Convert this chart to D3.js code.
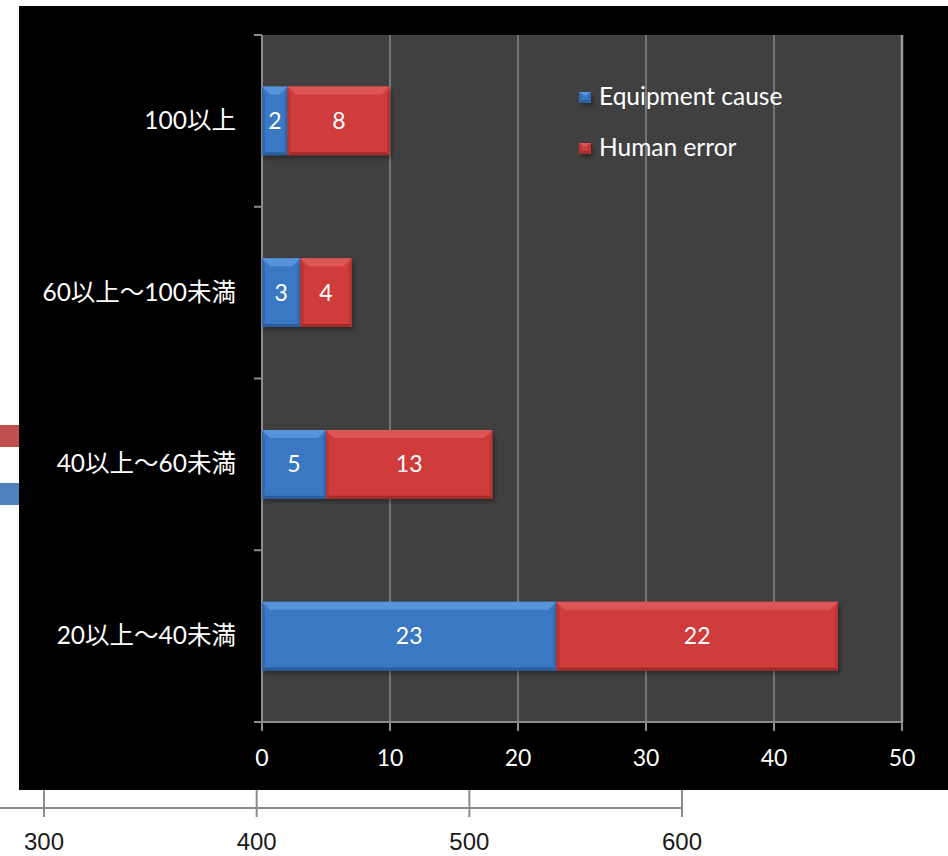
<!DOCTYPE html>
<html>
<head>
<meta charset="utf-8">
<script src="https://cdn.jsdelivr.net/npm/d3@7"></script>
<style>
  html, body { margin: 0; padding: 0; background: #ffffff; }
  svg { display: block; }
  text { font-family: Lato, "Noto Sans CJK JP", sans-serif; }
</style>
</head>
<body>
<svg id="chart" width="948" height="856"></svg>
<script>
// Age groups (top to bottom) and counts per cause
const categories = ["100以上", "60以上～100未満", "40以上～60未満", "20以上～40未満"];
const equipmentCause = [2, 3, 5, 23];
const humanError = [8, 4, 13, 22];
const seriesNames = ["Equipment cause", "Human error"];
const xTicks = [0, 10, 20, 30, 40, 50];

// Chart lying underneath (only its edge is visible)
const underTicks = [300, 400, 500, 600];
const underRed = [330];
const underBlue = [330];

const svg = d3.select("#chart");
const W = 948, H = 856;

const palette = {
  blue: { body: "#3b78c4", top: "#5893dc", bottom: "#2b5c9b", side: "#3469ae" },
  red:  { body: "#d03b3b", top: "#dd5656", bottom: "#a02b2b", side: "#b93434" }
};

svg.append("rect").attr("width", W).attr("height", H).attr("fill", "#ffffff");

// ---- underlying chart ----
const ux = d3.scaleLinear().domain([300, 600]).range([44, 682]);
const uAxisY = 808;
svg.selectAll("rect.under-red").data(underRed).join("rect")
  .attr("class", "under-red")
  .attr("x", ux(200)).attr("width", d => ux(d) - ux(200))
  .attr("y", 425).attr("height", 22).attr("fill", "#c0504d");
svg.selectAll("rect.under-blue").data(underBlue).join("rect")
  .attr("class", "under-blue")
  .attr("x", ux(200)).attr("width", d => ux(d) - ux(200))
  .attr("y", 483).attr("height", 22).attr("fill", "#4f81bd");
svg.append("line")
  .attr("x1", 0).attr("x2", ux(600))
  .attr("y1", uAxisY).attr("y2", uAxisY)
  .attr("stroke", "#8c8c8c").attr("stroke-width", 2);
svg.selectAll("line.under-tick").data(underTicks).join("line")
  .attr("class", "under-tick")
  .attr("x1", d => ux(d)).attr("x2", d => ux(d))
  .attr("y1", 780).attr("y2", 817)
  .attr("stroke", "#8c8c8c").attr("stroke-width", 2);
svg.selectAll("text.under-label").data(underTicks).join("text")
  .attr("class", "under-label")
  .attr("x", d => ux(d)).attr("y", 850)
  .attr("text-anchor", "middle")
  .attr("fill", "#1a1a1a")
  .style("font-family", "'Liberation Sans Narrow', 'Liberation Sans', sans-serif")
  .style("font-size", "24px")
  .text(d => d);

// ---- main chart ----
svg.append("rect").attr("x", 19).attr("y", 6).attr("width", W - 19).attr("height", 784).attr("fill", "#000000");

const plot = { left: 262, right: 902, top: 35, bottom: 722 };
const x = d3.scaleLinear().domain([0, 50]).range([plot.left, plot.right]);
const y = d3.scaleBand().domain(categories).range([plot.top, plot.bottom])
  .paddingInner(0.6).paddingOuter(0.3);

svg.append("rect")
  .attr("x", plot.left).attr("y", plot.top)
  .attr("width", plot.right - plot.left).attr("height", plot.bottom - plot.top)
  .attr("fill", "#404040");

// vertical gridlines
svg.selectAll("line.grid").data(xTicks.slice(1)).join("line")
  .attr("class", "grid")
  .attr("x1", d => x(d)).attr("x2", d => x(d))
  .attr("y1", plot.top).attr("y2", plot.bottom)
  .attr("stroke", d => d === 50 ? "#9a9a9a" : "#878787")
  .attr("stroke-width", d => d === 50 ? 2.5 : 1.5);

// category axis with ticks at band boundaries
const boundaries = d3.range(categories.length + 1).map(i => plot.top + i * (plot.bottom - plot.top) / categories.length);
svg.append("line")
  .attr("x1", plot.left).attr("x2", plot.left)
  .attr("y1", plot.top).attr("y2", plot.bottom)
  .attr("stroke", "#8c8c8c").attr("stroke-width", 2);
svg.selectAll("line.ytick").data(boundaries).join("line")
  .attr("class", "ytick")
  .attr("x1", plot.left - 8).attr("x2", plot.left)
  .attr("y1", d => d).attr("y2", d => d)
  .attr("stroke", "#8c8c8c").attr("stroke-width", 2);

// value axis
svg.append("line")
  .attr("x1", plot.left).attr("x2", plot.right)
  .attr("y1", plot.bottom).attr("y2", plot.bottom)
  .attr("stroke", "#8c8c8c").attr("stroke-width", 2);
svg.selectAll("line.xtick").data(xTicks).join("line")
  .attr("class", "xtick")
  .attr("x1", d => x(d)).attr("x2", d => x(d))
  .attr("y1", plot.bottom).attr("y2", plot.bottom + 9)
  .attr("stroke", "#8c8c8c").attr("stroke-width", 2);
svg.selectAll("text.xlabel").data(xTicks).join("text")
  .attr("class", "xlabel")
  .attr("x", d => x(d)).attr("y", 766)
  .attr("text-anchor", "middle")
  .attr("fill", "#ffffff")
  .style("font-size", "23px")
  .text(d => d);

svg.selectAll("text.ylabel").data(categories).join("text")
  .attr("class", "ylabel")
  .attr("x", 236).attr("y", d => y(d) + y.bandwidth() / 2 + 8)
  .attr("text-anchor", "end")
  .attr("fill", "#ffffff")
  .style("font-size", "24.5px")
  .text(d => d);

// bevelled bar segment
function bevelBar(g, x0, x1, y0, y1, c) {
  const tb = Math.min(8, (y1 - y0) / 3);
  const sideW = 3, botH = 3;
  const dg = Math.min(8, (x1 - x0) / 2);
  g.append("rect").attr("x", x0 + 2).attr("y", y0 + 3).attr("width", x1 - x0).attr("height", y1 - y0)
    .attr("fill", "#000000").attr("opacity", 0.35).attr("filter", "url(#soft)");
  g.append("rect").attr("x", x0).attr("y", y0).attr("width", x1 - x0).attr("height", y1 - y0).attr("fill", c.body);
  const poly = pts => pts.map(p => p.join(",")).join(" ");
  g.append("polygon").attr("fill", c.side)
    .attr("points", poly([[x0, y0], [x0 + sideW, y0 + tb], [x0 + sideW, y1 - botH], [x0, y1]]));
  g.append("polygon").attr("fill", c.side)
    .attr("points", poly([[x1, y0], [x1 - sideW, y0 + tb], [x1 - sideW, y1 - botH], [x1, y1]]));
  g.append("polygon").attr("fill", c.bottom)
    .attr("points", poly([[x0, y1], [x0 + sideW, y1 - botH], [x1 - sideW, y1 - botH], [x1, y1]]));
  g.append("polygon").attr("fill", c.top)
    .attr("points", poly([[x0, y0], [x1, y0], [x1 - dg, y0 + tb], [x0 + dg, y0 + tb]]));
}

const defs = svg.append("defs");
defs.append("filter").attr("id", "soft").attr("x", "-10%").attr("y", "-10%").attr("width", "120%").attr("height", "130%")
  .append("feGaussianBlur").attr("stdDeviation", 2);

const bars = svg.append("g");
categories.forEach((cat, i) => {
  const y0 = y(cat), y1 = y(cat) + y.bandwidth();
  const e = equipmentCause[i], h = humanError[i];
  bevelBar(bars, x(0), x(e), y0, y1, palette.blue);
  bevelBar(bars, x(e), x(e + h), y0, y1, palette.red);
});

// value labels
const labels = svg.append("g");
categories.forEach((cat, i) => {
  const cy = y(cat) + y.bandwidth() / 2 + 8;
  const e = equipmentCause[i], h = humanError[i];
  labels.append("text").attr("x", (x(0) + x(e)) / 2).attr("y", cy)
    .attr("text-anchor", "middle").attr("fill", "#ffffff").style("font-size", "23px").text(e);
  labels.append("text").attr("x", (x(e) + x(e + h)) / 2).attr("y", cy)
    .attr("text-anchor", "middle").attr("fill", "#ffffff").style("font-size", "23px").text(h);
});

// legend
const legend = svg.append("g");
const legendColors = [palette.blue, palette.red];
seriesNames.forEach((name, i) => {
  const ly = 97 + i * 51;
  bevelBar(legend, 579, 591, ly - 5, ly + 6, legendColors[i]);
  legend.append("text").attr("x", 599).attr("y", ly + 8)
    .attr("fill", "#ffffff").style("font-size", "24.5px").text(name);
});
</script>
</body>
</html>
